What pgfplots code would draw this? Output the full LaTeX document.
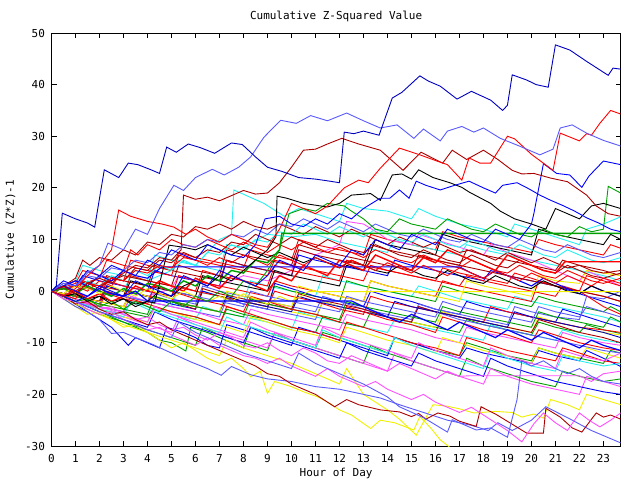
\documentclass[border=0pt]{standalone}
\usepackage{fontspec}
\setmainfont{DejaVu Sans Mono}
\usepackage{pgfplots}
\pgfplotsset{compat=1.18}
\definecolor{cR}{RGB}{255,0,0}
\definecolor{cG}{RGB}{0,160,0}
\definecolor{cB}{RGB}{0,0,255}
\definecolor{cM}{RGB}{255,80,255}
\definecolor{cC}{RGB}{40,240,240}
\definecolor{cY}{RGB}{240,240,0}
\definecolor{cK}{RGB}{0,0,0}
\definecolor{cDR}{RGB}{170,0,0}
\definecolor{cDB}{RGB}{0,0,190}
\definecolor{cLB}{RGB}{90,90,255}
\begin{document}
\begin{tikzpicture}
\path[use as bounding box] (0,0) rectangle (640pt,480pt);
\begin{axis}[
  at={(51.5pt,34pt)}, anchor=south west,
  width=569.2pt, height=413pt, scale only axis,
  xmin=0, xmax=23.72, ymin=-30, ymax=50,
  xtick={0,1,...,23}, ytick={-30,-20,...,50},
  tick align=inside, major tick length=5pt,
  axis line style={line width=0.8pt},
  every tick/.style={line width=0.8pt, black},
  /pgf/number format/assume math mode=true,
  tick label style={font=\fontsize{11}{12}\selectfont},
  xticklabel style={yshift=-5pt},
  yticklabel style={xshift=-3pt},
  title={Cumulative Z-Squared Value},
  title style={font=\fontsize{11}{12}\selectfont, at={(axis description cs:0.5,1)}, anchor=center, yshift=11pt},
  xlabel={Hour of Day},
  xlabel style={font=\fontsize{11}{12}\selectfont, at={(axis description cs:0.5,0)}, anchor=center, yshift=-27pt},
  ylabel={Cumulative (Z*Z)-1},
  ylabel style={font=\fontsize{11}{12}\selectfont, at={(axis description cs:-0.072,0.5)}, anchor=center},
  every axis plot/.append style={line width=0.9pt, mark=none},
]
% middle bundle
\addplot[cR] coordinates {(0,0)(1,1.5)(1.3,4)(2,3)(3,2)(3.3,6)(4,5)(5,4)(5.3,7.5)(6,6.5)(7,5.5)(8,4.5)(8.3,8)(9,7)(10,6)(10.3,10)(11,9)(12,8)(13,7)(13.3,11)(14,10)(15,9)(16,8)(16.3,11.5)(17,10.5)(18,9.5)(19,8.5)(20,7.5)(20.3,10)(21,9)(22,8)(23,7)(23.3,9)(23.72,8.3)};
\addplot[cC] coordinates {(0,0)(1,-1)(1.3,2)(2,1)(3,0)(3.3,3)(4,2)(5,4)(5.3,6)(6,5)(7,10)(7.5,11)(7.6,19.6)(8.85,17)(9.7,14.5)(10.3,16)(11,15)(12,13.5)(12.3,17)(13,16)(14,15.5)(15,14)(15.3,16)(16,14.5)(17,13)(18,12)(19,10.5)(19.3,13)(20,12)(21,10.5)(22,9)(22.3,12)(23,13)(23.72,14.4)};
\addplot[cC] coordinates {(0,0)(1,2)(1.3,5)(2,4)(3,3)(4,2)(4.3,7)(5,6)(6,5)(7,4)(7.3,9)(8,8.5)(9,11)(10,10.5)(11,11)(12,9.5)(13,8.5)(14,7.5)(14.3,10)(15,9)(16,8)(17,7)(17.3,9)(18,8)(19,7)(20,6)(21,5)(22,4)(23,3)(23.72,2)};
\addplot[cC] coordinates {(0,0)(1,-1.5)(2,-2.5)(2.3,0)(3,-1)(4,-2)(5,-3)(5.3,1)(6,0)(7,-1)(8,-2)(8.3,2)(9,1)(10,0)(11,-1)(11.3,3)(12,2)(13,1)(14,0)(15,-1)(15.3,1)(16,0)(17,-1.5)(18,-2.5)(19,-3.5)(19.3,-1)(20,-2)(21,-3)(22,-4)(23,-5)(23.72,-6)};
\addplot[cC] coordinates {(0,0)(1,-2)(2,-3.5)(3,-4.5)(3.3,-2)(4,-3)(5,-4.5)(6,-5.5)(6.3,-3)(7,-4)(8,-5)(9,-6)(10,-7.5)(10.3,-4)(11,-5)(12,-6)(13,-7)(14,-8)(14.3,-5.5)(15,-6.5)(16,-7.5)(17,-8.5)(18,-9.5)(18.3,-6.5)(19,-7.5)(20,-8.5)(21,-9.5)(21.3,-7.5)(22,-8.5)(23,-9.5)(23.72,-10)};
\addplot[cG] coordinates {(0,0)(1,-1)(2,-2)(2.3,1)(3,0)(4,-1)(5,-2)(6,-3)(6.3,0)(7,-1)(8,-2)(9,-3)(9.3,1)(10,0)(11,-1)(12,-2)(12.3,2)(13,1)(14,0)(15,-1)(16,-2)(16.3,1)(17,0)(18,-1)(19,-2)(20,-3)(20.3,-1)(21,-2)(22,-3)(23,-4)(23.3,-3)(23.72,-4)};
\addplot[cG] coordinates {(0,0)(1,-1.5)(2,-3)(3,-4)(4,-5)(4.3,-3)(5,-4)(6,-5)(7,-6.5)(7.3,-3.5)(8,-4.5)(9,-5.5)(10,-7)(11,-8)(11.3,-5)(12,-6)(13,-7)(13.3,-4)(14,-5)(15,-6)(16,-7)(17,-8)(17.3,-5.5)(18,-6.5)(19,-7.5)(20,-8.5)(20.3,-6)(21,-7)(22,-8)(22.3,-6.5)(23,-7.5)(23.72,-8.2)};
\addplot[cG] coordinates {(0,0)(1,-2)(2,-4)(3,-6)(4,-8)(4.5,-9.5)(5,-10)(5.6,-11.6)(5.8,-7)(6.5,-8)(7,-9)(7.5,-10)(8,-11)(8.3,-7)(9,-8)(10,-9.5)(11,-11)(11.3,-8)(12,-9)(13,-10.5)(14,-12)(14.3,-9)(15,-10)(16,-11.5)(17,-12.5)(17.3,-10)(18,-11)(19,-12.5)(20,-13.5)(20.3,-11)(21,-12)(22,-13)(23,-14)(23.3,-11.5)(23.72,-12)};
\addplot[cG] coordinates {(0,0)(1,-2.5)(2,-4.5)(3,-6)(4,-7.5)(5,-9)(6,-10.5)(6.3,-7)(7,-8.5)(8,-10)(9,-11.5)(9.3,-8)(10,-9.5)(11,-11)(12,-12.5)(13,-14)(13.3,-10.5)(14,-12)(15,-13.5)(16,-15)(17,-16.5)(17.3,-13)(18,-14.5)(19,-16)(20,-17.5)(21,-18.5)(21.3,-15.5)(22,-16.5)(23,-17.5)(23.72,-17)};
\addplot[cB] coordinates {(0,0)(1,1)(1.3,3)(2,2)(3,1)(4,0)(4.3,4)(5,3)(6,2)(7,1)(7.3,6)(8,5)(9,4)(10,3)(10.3,7)(11,6)(12,5)(13,4)(14,3)(14.3,6)(15,5)(16,4)(17,3)(18,2)(18.3,4)(19,3)(20,2)(21,1)(22,-0.5)(23,-2)(23.72,-3)};
\addplot[cB] coordinates {(0,0)(1,-1)(2,-2.5)(2.3,1)(3,0)(4,-1)(5,-2.5)(6,-3.5)(6.3,0)(7,-1)(8,-2.5)(9,-3.5)(9.3,1.5)(10,0.5)(11,-1)(12,-2)(13,-3)(13.3,0)(14,-1)(15,-2)(16,-3.5)(17,-4.5)(17.3,-2)(18,-3)(19,-4)(20,-5)(21,-6)(21.3,-3.5)(22,-4.5)(23,-6)(23.72,-7)};
\addplot[cB] coordinates {(0,0)(0.5,-1)(1,-2.5)(1.5,-4)(2,-5.5)(2.5,-7)(3.2,-10.5)(3.5,-9)(4,-10)(4.5,-11)(4.8,-7)(5.5,-8)(6,-9)(6.5,-10.5)(7,-11)(7.3,-6.5)(8,-7.5)(9,-9)(10,-10.5)(10.3,-7)(11,-8)(12,-9.5)(13,-11)(14,-12.5)(14.3,-9)(15,-10)(16,-11.5)(17,-13)(17.3,-11)(18,-12)(19,-13)(20,-14)(20.3,-11.5)(21,-12.5)(22,-13.5)(22.3,-11.5)(23,-13)(23.72,-14.6)};
\addplot[cLB] coordinates {(0,0)(1,-1)(2,-2)(2.3,2)(3,1)(4,0)(5,-1.5)(6,-2.5)(6.3,1)(7,0)(8,-1)(9,-2)(10,-3)(11,-4)(11.3,-1)(12,-2)(13,-3.5)(14,-4.5)(15,-5.5)(15.3,-3)(16,-4)(17,-5.5)(18,-6.5)(19,-7.5)(20,-8.5)(21,-9.5)(22,-10.5)(23,-11.5)(23.72,-12)};
\addplot[cLB] coordinates {(0,0)(1,-1.5)(2,-3)(3,-4)(3.3,-1)(4,-2)(5,-3)(6,-4)(7,-5)(7.3,-1.5)(8,-2.5)(9,-3.5)(10,-4.5)(11,-5.5)(11.3,-2)(12,-3)(13,-4)(14,-5)(15,-6)(15.3,-2.5)(16,-3.5)(17,-4.5)(18,-5.5)(19,-6.5)(19.3,-3)(20,-4)(21,-5)(22,-5.5)(22.3,-1)(23,-1.5)(23.72,0)};
\addplot[cM] coordinates {(0,0)(1,-1)(2,-2)(2.3,1)(3,0)(4,-1)(5,0.5)(5.3,3)(6,2)(7,1)(8,3)(9,2)(10,4)(10.3,8)(11,7)(12,9)(12.3,13.5)(13,13)(13.7,11)(14,10)(15,9)(15.3,11)(16,10)(17,8.5)(18,7)(18.3,9)(19,7.5)(20,6)(21,4)(22,2)(22.3,4)(23,2.5)(23.72,1)};
\addplot[cM] coordinates {(0,0)(1,-1.5)(2,-3)(3,-4)(3.3,-1)(4,-2)(5,-3)(6,-4)(7,-5.5)(8,-6.5)(8.3,-3.5)(9,-4.5)(10,-5.5)(11,-6.5)(12,-7.5)(12.3,-4.5)(13,-5.5)(14,-6.5)(15,-7.5)(16,-9)(17,-10)(17.3,-7)(18,-8)(19,-9)(20,-10)(21,-11)(21.3,-8)(22,-9)(23,-10)(23.72,-10.5)};
\addplot[cM] coordinates {(0,0)(1,-2)(2,-3.5)(3,-5)(4,-6.5)(5,-8)(5.3,-5)(6,-6.5)(7,-8)(8,-9.5)(9,-11)(9.3,-8)(10,-9.5)(11,-11)(12,-12.5)(13,-14)(14,-15.5)(14.3,-12)(15,-13.5)(16,-15)(17,-16.5)(18,-18)(18.3,-15)(19,-16.5)(20,-18)(21,-19)(22,-20)(22.3,-16.5)(23,-17.5)(23.72,-18.5)};
\addplot[cY] coordinates {(0,0)(1,-1.5)(2,-2.5)(3,-3.5)(3.3,0)(4,-1)(5,-2)(6,-3)(7,-4)(7.3,-1)(8,-2)(9,-3)(10,-4)(11,-5)(11.3,-2)(12,-3)(13,-4)(14,-5)(15,-6)(16,-7)(16.3,-4)(17,-5)(18,-6)(19,-7)(20,-8)(20.3,-5)(21,-6)(22,-7)(23,-8)(23.72,-8.5)};
\addplot[cY] coordinates {(0,0)(1,-2)(2,-3.5)(3,-5)(4,-6)(4.3,-3)(5,-4)(6,-5.5)(7,-6.5)(8,-8)(8.3,-5)(9,-6)(10,-7.5)(11,-8.5)(12,-10)(12.3,-7)(13,-8)(14,-9.5)(15,-10.5)(16,-12)(16.3,-9)(17,-10)(18,-11.5)(19,-12.5)(20,-14)(20.3,-11)(21,-12)(22,-13)(22.3,-11)(23,-12)(23.72,-13)};
\addplot[cY] coordinates {(0,0)(1,-2.5)(2,-4.5)(3,-6.5)(4,-8)(5,-9.5)(6,-11)(7,-12.5)(7.3,-9.5)(8,-11)(9,-12.5)(10,-14)(11,-16)(12,-18)(12.3,-15)(13,-20)(14,-23)(14.5,-24.8)(15.2,-27.9)(15.9,-22)(16.5,-22.3)(17,-22.8)(17.6,-23.6)(18.5,-23.3)(19.2,-23.5)(19.6,-24.4)(20.1,-23.8)(20.5,-24.6)(20.8,-21)(21.5,-22)(22,-23)(22.3,-20)(23,-21)(23.72,-22)};
\addplot[cR] coordinates {(0,0)(1,1)(2,0)(3,-1)(3.3,3)(4,2)(5,1)(6,0)(6.3,4)(7,3)(8,2)(9,1)(9.3,5)(10,4)(11,3)(12,2)(12.3,6)(13,5)(14,4)(15,3)(16,2)(16.3,4.5)(17,3.5)(18,2.5)(19,1.5)(19.3,3.5)(20,2.5)(21,1)(22,0)(23,-1)(23.72,-2)};
\addplot[cR] coordinates {(0,0)(1,-1)(1.3,2)(2,1)(3,0)(4,-1)(5,-2)(5.3,1)(6,0)(7,-1)(8,-2)(9,-3)(9.3,0)(10,-1)(11,-2)(12,-3.5)(13,-4.5)(13.3,-1)(14,-2)(15,-3)(16,-4)(17,-5)(18,-6)(18.3,-3)(19,-4)(20,-5)(21,-6)(22,-7)(23,-7.5)(23.72,-8)};
\addplot[cR] coordinates {(0,0)(1,-2)(2,-3)(2.3,0)(3,-1)(4,-2.5)(5,-4)(6,-5)(7,-6.5)(7.3,-3)(8,-4)(9,-5.5)(10,-7)(11,-8)(12,-9.5)(12.3,-6)(13,-7)(14,-8.5)(15,-10)(16,-11)(17,-12.5)(17.3,-9)(18,-10)(19,-11.5)(20,-12.5)(21,-13.5)(21.3,-11)(22,-12)(23,-13.5)(23.72,-14)};
\addplot[cDR] coordinates {(0,0)(1,1)(2,0)(2.3,3)(3,2)(4,1)(4.3,5)(5,4)(6,3)(7,2)(7.3,6)(8,5)(9,4)(10,3)(10.3,8)(11,7)(12,6)(13,5)(13.3,9)(14,8)(15,7)(16,6)(17,5)(17.3,8)(18,7)(19,6)(20,5)(21,4)(21.3,6)(22,5)(23,4)(23.72,3)};
\addplot[cDR] coordinates {(0,0)(1,-1)(2,-2)(3,-3)(3.3,0)(4,-1)(5,-2)(6,-3.5)(6.3,0.5)(7,-0.5)(8,-1.5)(9,-2.5)(10,-3.5)(10.3,-0.5)(11,-1.5)(12,-2.5)(13,-3.5)(14,-5)(15,-6)(15.3,-3)(16,-4)(17,-5)(18,-6)(19,-7)(20,-8)(20.3,-5.5)(21,-6.5)(22,-8)(23,-9)(23.72,-10)};
\addplot[cK] coordinates {(0,0)(1,1)(2,0)(3,-1)(3.3,2)(4,1)(5,0)(6,-1)(6.3,3)(7,2)(8,1)(9,0)(9.3,4)(10,3)(11,2)(12,1)(12.3,5)(13,4)(13.5,10)(14,9)(15,8)(16,7)(16.3,11)(17,10)(18,9)(19,8)(20,7)(20.3,12)(21,11)(22,10)(23,9)(23.3,11)(23.72,10)};
\addplot[cDB] coordinates {(0,0)(1,-1)(2,-2)(2.3,1)(3,0)(4,-1)(5,-2)(6,-3)(7,-4)(7.3,-1)(8,-2)(9,-3)(10,-4)(10.3,-1)(11,-2)(12,-3)(13,-4)(14,-5)(14.3,-2)(15,-3)(16,-4)(17,-5)(18,-6)(19,-7)(19.3,-4)(20,-5)(21,-6)(22,-7)(23,-8)(23.72,-9)};
\addplot[cR] coordinates {(0,0)(1,-1)(2,-2)(2.3,2)(3,1)(4,0)(5,-1)(5.3,3)(6,2)(7,1)(8,0)(9,-1)(9.3,2)(10,1)(11,0)(12,-1)(13,-2)(13.3,2)(14,1)(15,0)(16,-1)(16.3,2)(17,1)(18,0)(19,-1)(20,-2)(20.3,2)(21,1)(22,0)(22.3,3)(23,2)(23.72,1)};
\addplot[cY] coordinates {(0,0)(1,-1)(2,-2)(3,-3)(3.3,0)(4,-1)(5,-2)(6,-3)(7,-4)(7.3,0)(8,-1)(9,-2)(10,-3)(10.3,1)(11,0)(12,-1)(13,-2)(13.3,2)(14,1)(15,0)(16,-1)(17,-2)(17.3,2)(18,1)(19,0)(20,-1)(20.3,3)(21,2)(22,1.5)(22.3,4)(23,3.5)(23.72,3)};
\addplot[cLB] coordinates {(0,0)(1,1)(2,0)(3,-1)(4,-2)(4.3,1)(5,0)(6,-1)(7,-2)(8,-3)(8.3,0)(9,-1)(10,-2)(11,-3)(12,-4)(12.3,-1)(13,-2)(14,-3)(15,-4)(16,-5)(16.3,-2)(17,-3)(18,-4)(19,-5)(20,-6)(20.3,-3)(21,-4)(22,-5)(22.3,-3)(23,-4)(23.72,-5)};
\addplot[cB] coordinates {(0,0)(1,-2)(2,-4)(3,-5.5)(4,-7)(4.3,-4)(5,-5.5)(6,-7)(7,-8.5)(8,-10)(8.3,-7)(9,-8.5)(10,-10)(11,-11.5)(12,-13)(12.3,-10)(13,-11.5)(14,-13)(15,-14.5)(15.3,-12)(16,-13.5)(17,-15)(18,-16.5)(18.3,-13)(19,-14.5)(20,-16)(21,-17.5)(22,-18.5)(23,-19.5)(23.72,-20)};
\addplot[cC] coordinates {(0,0)(1,-2)(2,-3.5)(3,-5)(3.3,-2)(4,-3.5)(5,-5)(6,-6.5)(7,-8)(7.3,-5)(8,-6.5)(9,-8)(10,-9.5)(11,-11)(11.3,-7.5)(12,-9)(13,-10.5)(14,-12)(14.3,-9)(15,-10.5)(16,-12)(17,-13.5)(18,-15)(18.3,-11.5)(19,-13)(20,-14.5)(21,-15.5)(21.3,-12.5)(22,-13.5)(23,-14.5)(23.72,-14)};
\addplot[cG] coordinates {(0,0)(1,-1)(2,-2.5)(3,-3.5)(4,-4.5)(4.3,-1)(5,-2)(6,-3)(7,-4)(8,-5)(8.3,-1.5)(9,-2.5)(10,-3.5)(11,-4.5)(12,-5.5)(12.3,-2)(13,-3)(14,-4)(15,-5)(16,-6)(16.3,-3)(17,-4)(18,-5)(19,-6)(20,-7)(20.3,-4)(21,-5)(22,-6)(23,-7)(23.3,-5)(23.72,-6)};
\addplot[cM] coordinates {(0,0)(1,-1.5)(2,-3)(3,-4.5)(4,-6)(4.3,-3)(5,-4.5)(6,-6)(7,-7.5)(8,-9)(8.3,-6)(9,-7.5)(10,-9)(11,-10.5)(11.3,-7)(12,-8.5)(13,-10)(14,-11.5)(15,-13)(15.3,-10)(16,-11.5)(17,-13)(18,-14.5)(18.3,-11)(19,-12.5)(20,-14)(21,-15)(21.3,-11.5)(22,-12.5)(23,-13.5)(23.72,-12)};
\addplot[cR] coordinates {(0,0)(1,1)(2,2.5)(2.3,6)(3,5)(4,4)(5,3)(5.3,7)(6,6)(7,5)(8,4)(9,3)(9.3,6)(10,5)(11,4)(12,3)(13,2)(13.3,5)(14,4)(15,3)(16,2)(17,1)(17.3,3)(18,2)(19,1)(20,0)(21,-1)(21.3,1)(22,0)(23,-3)(23.72,-4.5)};
\addplot[cDR] coordinates {(0,0)(1,2)(2,1)(3,3)(4,2)(5,1)(5.3,5)(6,4)(7,3)(7.3,8)(8,7)(9,6)(10,5)(10.3,9)(11,8)(12,7)(13,6)(14,5)(15,4)(15.3,7)(16,6)(17,5)(18,4)(19,3)(20,2)(21,1)(22,0)(23,-1)(23.72,-2)};
\addplot[cR] coordinates {(0,0)(1,-1.5)(1.3,1)(2,0)(3,-1.5)(4,-2.5)(4.3,1)(5,0)(6,-1.5)(7,-2.5)(8,-4)(8.3,-1)(9,-2)(10,-3.5)(11,-4.5)(12,-6)(12.3,-3)(13,-4)(14,-5.5)(15,-6.5)(16,-8)(16.3,-5)(17,-6)(18,-7.5)(19,-8.5)(20,-10)(20.3,-7.5)(21,-8.5)(22,-10)(23,-11)(23.72,-11.5)};
% additional upper-middle series
\addplot[cDR] coordinates {(0,0)(0.5,1)(1,2.5)(1.3,6)(1.6,5)(2,6.5)(2.5,6)(3,8)(3.5,7)(4,9.5)(4.5,9)(5,11)(5.5,10.5)(6,12.5)(6.5,12)(7,13)(7.5,12)(8,13.5)(8.5,12.5)(9,12)(9.5,13)(10,12)(10.5,11)(11,12.5)(11.5,11.5)(12,10.5)(12.5,12)(13,11)(13.5,10)(14,9)(14.5,10.5)(15,9.5)(15.5,8.5)(16,9.5)(16.5,8.5)(17,7.5)(17.5,8)(18,7)(18.5,6)(19,7.5)(19.5,6.5)(20,5.5)(20.5,6.5)(21,5.5)(21.5,4.5)(22,5)(22.5,4)(23,3.5)(23.72,4)};
\addplot[cR] coordinates {(0,0)(0.5,-0.5)(1,1)(1.5,0)(2,2)(2.5,1)(3,4)(3.3,8)(3.6,7)(4,9)(4.5,8)(5,10)(5.5,9)(6,8.5)(6.5,10)(7,9)(7.5,8)(8,9.5)(8.5,8.5)(9,7.5)(9.5,9)(10,8)(10.5,9.5)(11,8.5)(11.5,7.5)(12,8.5)(12.5,7.5)(13,6.5)(13.5,8)(14,7)(14.5,6)(15,5.5)(15.5,7)(16,6)(16.5,5)(17,4.5)(17.5,6)(18,5)(18.5,4)(19,3.5)(19.5,5)(20,4)(20.5,3)(21,2.5)(21.5,4)(22,3)(22.5,2)(23,1.5)(23.72,2.5)};
\addplot[cC] coordinates {(0,0)(0.5,1)(1,0)(1.5,2)(2,1)(2.5,3)(3,2)(3.5,4)(4,3)(4.5,5)(5,4)(5.5,6)(6,5)(6.5,7.5)(7,7)(7.5,9)(8,8)(8.5,10)(9,9.5)(9.5,11.5)(10,11)(10.5,13)(11,12)(11.5,11)(12,12.5)(12.5,11.5)(13,10.5)(13.5,12)(14,11)(14.5,10)(15,9.5)(15.5,11)(16,10)(16.5,9)(17,8.5)(17.5,10)(18,9)(18.5,8)(19,7.5)(19.5,9)(20,8)(20.5,7)(21,6.5)(21.5,8)(22,7)(22.5,6)(23,5.5)(23.72,6.5)};
\addplot[cB, line width=1.1pt] coordinates {(0,0)(0.5,1)(1,2)(1.5,1)(2,3)(2.5,2)(3,4)(3.5,3)(4,2.5)(4.6,4.7)(17,4.7)(17.5,3.5)(18,2.5)(18.5,4)(19,3)(19.5,2)(20,1)(20.5,2.5)(21,1.5)(21.5,0.5)(22,-0.5)(22.5,1)(23,0)(23.72,-1)};
\addplot[cK] coordinates {(0,0)(0.5,-1)(1,-0.5)(1.5,-1.5)(2,-1)(2.5,-2)(3,-1.5)(3.5,-2.5)(4,-2)(4.3,-2.3)(4.9,8.9)(5.5,8.5)(6,8)(6.5,9)(7,8)(7.5,7)(8,8.5)(8.5,7.5)(9,6.5)(9.5,7.5)(10,6.5)(10.5,5.5)(11,6.5)(11.5,5.5)(12,4.5)(12.5,6)(13,5)(13.5,4)(14,3.5)(14.5,5)(15,4)(15.5,3)(16,2.5)(16.5,4)(17,3)(17.5,2)(18,1.5)(18.5,3)(19,2)(19.5,1)(20,0.5)(20.5,2)(21,1)(21.5,0)(22,-0.5)(22.5,1)(23,0)(23.72,-1)};
\addplot[cDR] coordinates {(0,0)(0.5,0.5)(1,-0.5)(1.5,1.5)(2,0.5)(2.5,2.5)(3,2)(3.5,4.5)(4,4)(4.5,6)(5,5.5)(5.5,7.5)(6,6.5)(6.5,8)(7,7.5)(7.5,9.5)(8,9)(8.5,11)(9,10)(9.5,9)(10,10.5)(10.5,9.5)(11,8.5)(11.5,10)(12,9)(12.5,8)(13,7.5)(13.5,9)(14,8)(14.5,7)(15,6.5)(15.5,8)(16,7)(16.5,6)(17,5.5)(17.5,7)(18,6)(18.5,5)(19,4.5)(19.5,6)(20,5)(20.5,4)(21,3.5)(21.5,5)(22,4)(22.5,3)(23,2.5)(23.72,3.5)};
\addplot[cLB] coordinates {(0,0)(0.5,1.5)(1,1)(1.5,3)(2,2.5)(2.5,4.5)(3,4)(3.5,6)(4,5.5)(4.5,7.5)(5,7)(5.5,9)(6,8.5)(6.5,10)(7,9.5)(7.5,11)(8,10.5)(8.5,12)(9,11)(9.5,13)(10,12.5)(10.5,14)(11,13)(11.5,12)(12,13.5)(12.5,12.5)(13,11.5)(13.5,13)(14,12)(14.5,11)(15,10.5)(15.5,12)(16,11)(16.5,10)(17,9.5)(17.5,11)(18,10)(18.5,9)(19,8.5)(19.5,10)(20,9)(20.5,8)(21,7.5)(21.5,9)(22,8)(22.5,7)(23,6.5)(23.72,7.5)};
\addplot[cR] coordinates {(0,0)(0.5,0.5)(1,0)(1.5,1.5)(2,1)(2.5,2.5)(3,2)(3.5,4)(4,3.5)(4.5,5)(5,4.5)(5.5,6.5)(6,6)(6.5,5)(7,6.5)(7.5,5.5)(8,7)(8.5,6)(9,5)(9.5,7)(10,6)(10.5,5)(11,6.5)(11.5,5.5)(12,4.5)(12.5,6)(13,5)(13.5,4)(14,5.5)(14.5,4.5)(15,3.5)(15.5,5)(16,4)(16.5,3)(17,4.5)(17.5,3.5)(18,2.5)(18.5,4)(19,3)(19.5,2)(20,3.5)(20.5,2.5)(21,1.5)(21.5,3)(22,2)(22.5,1)(23,2.5)(23.72,1.5)};
% special / traced series
\addplot[cG, line width=1.4pt] coordinates {(0,0)(0.5,0.5)(1,-0.5)(1.5,1)(2,0)(2.5,-1)(3,0.5)(3.5,-0.5)(4,1.5)(4.5,1)(5,0)(5.5,2)(6,1)(6.5,3)(7,2)(7.5,4)(8,3.5)(8.5,6)(9,5.5)(9.5,8)(9.6,11.2)(23.72,11.2)};
\addplot[cR, line width=1.4pt] coordinates {(0,0)(0.5,-1)(1,0)(1.5,-1.5)(2,-0.5)(2.5,-2)(3,-1)(3.5,1)(4,0)(4.5,2)(5,1)(5.5,0)(6,2.5)(6.5,1.5)(7,0.5)(7.5,3)(8,2)(8.5,1)(9,0)(9.5,3)(10,2)(10.5,5)(11,4)(11.5,3)(12,6)(12.5,5)(13,4)(13.5,7)(14,6)(14.5,5)(15,4)(15.5,6.5)(16,5.5)(16.5,8)(17,7)(17.5,6)(18,5)(18.5,4)(19,7)(19.5,6)(20,5)(20.5,4)(21,3.5)(21.4,5.7)(23.72,5.7)};
\addplot[cY] coordinates {(0,0)(0.5,-0.5)(1,1)(1.5,0.5)(2,-0.5)(2.5,1)(3,0)(3.5,-1)(4,0.5)(4.5,-0.5)(5,-1.5)(5.5,0)(6,-1)(6.5,-2)(7,-1)(7.5,-2)(8,-0.5)(8.5,-1.5)(9,-2.5)(9.5,-1)(10,-2)(10.7,-0.1)(23.72,-0.1)};
\addplot[cM] coordinates {(0,0)(0.5,-1)(1,-2)(1.5,-2.5)(2,-3.5)(2.5,-3)(3,-4.5)(3.5,-5.5)(4,-5)(4.5,-6.5)(5,-7.5)(5.5,-7)(6,-8.5)(6.5,-9.5)(7,-8)(7.5,-9)(8,-10.5)(8.5,-11)(9,-10)(9.5,-11.5)(10,-12.5)(10.5,-11)(11,-12)(11.5,-13.5)(12,-14)(12.5,-12.5)(13,-13.5)(13.5,-14.5)(14,-15.5)(14.5,-14)(15,-15)(15.5,-16)(16,-17)(16.5,-15.5)(17,-16.5)(17.4,-16.4)(22,-16.4)(22.5,-17.5)(23,-16)(23.72,-15.5)};
\addplot[cB, line width=1.2pt] coordinates {(0,0)(0.5,1)(1,0)(1.5,-1)(2,0.5)(2.5,-0.5)(3,-1)(3.5,0)(4.0,-1.9)(12.5,-1.9)(13,-3)(13.5,-4)(14,-5)(14.5,-6)(15,-4.5)(15.5,-5.5)(16,-6.5)(16.5,-7.5)(17,-6)(17.5,-7)(18,-8)(18.5,-9)(19,-7.5)(19.5,-8.5)(20,-9.5)(20.5,-8)(21,-9)(21.5,-10)(22,-11)(22.5,-9.5)(23,-10.5)(23.72,-11.5)};
\addplot[cY] coordinates {(0,0)(0.5,-1.5)(1,-3)(1.5,-4.5)(2,-4)(2.5,-5.5)(3,-7)(3.5,-6.5)(4,-8)(4.5,-9.5)(5,-11)(5.5,-10)(6,-11.5)(6.5,-13)(7,-14)(7.5,-13)(8,-15)(8.3,-16.6)(8.7,-15.5)(9.0,-19.8)(9.3,-17.5)(10,-18.5)(10.5,-19.5)(11.1,-20.5)(11.5,-21.5)(12,-23)(12.5,-24)(13.3,-26.6)(13.7,-25)(14.3,-25.5)(15.1,-26.9)(15.35,-24.3)(15.8,-26.5)(16.2,-28.8)(16.8,-31)};
\addplot[cLB] coordinates {(0,0)(0.5,-1.5)(1,-3)(1.5,-4)(2,-5.5)(2.5,-8.2)(3,-8)(3.5,-9)(4.2,-10.3)(5,-12)(5.8,-13.7)(6.5,-15)(7.07,-16.3)(7.5,-14.6)(8.3,-16.2)(9,-17)(10,-17.5)(11,-18.5)(12,-19)(13,-20)(13.7,-20.7)(14.5,-22)(15.5,-23.5)(16.5,-25)(17.5,-26)(18.2,-27)(18.6,-25.5)(19.2,-27)(20,-25)(20.6,-22.4)(21.5,-24.5)(22.5,-27)(23.72,-29.4)};
\addplot[cDR] coordinates {(0,0)(0.5,-1)(1,-2.5)(1.5,-2)(2,-3.5)(2.5,-4.5)(3,-4)(3.5,-5.5)(4,-6.5)(4.5,-6)(5,-7.5)(5.5,-8.5)(6,-9.5)(6.5,-10.5)(7,-11.5)(7.5,-12.5)(8,-13.5)(8.5,-14.5)(9,-16)(9.5,-16.5)(10,-18)(10.5,-19)(11,-20)(11.8,-22.4)(12.3,-21)(12.8,-22)(13.7,-23)(14.5,-23.4)(15.0,-24.3)(15.3,-23.7)(15.6,-24.8)(16.1,-23.6)(16.6,-24.2)(17.0,-25.2)(17.7,-26.2)(17.9,-22.4)(18.5,-23.8)(19.1,-25.5)(19.8,-27.5)(20.5,-27.5)(20.6,-22.7)(21.2,-24.4)(21.7,-26.5)(22.1,-27.3)(22.7,-23.6)(23.0,-24.4)(23.3,-24)(23.72,-24.8)};
\addplot[cM] coordinates {(0,0)(0.5,-1.5)(1,-2)(1.5,-3.5)(2,-4.5)(2.5,-4)(3,-5.5)(3.5,-6.5)(4,-7.5)(4.5,-7)(5,-8.5)(5.5,-9.5)(6,-10.5)(6.5,-9)(7,-10.5)(7.5,-11.5)(8,-12.5)(8.5,-13)(9,-14)(9.5,-13)(10,-14.5)(10.5,-15.5)(11,-16.5)(11.5,-15)(12,-16.5)(12.5,-17.5)(13,-18.5)(13.5,-17.5)(14,-19)(14.5,-20)(15,-21)(15.5,-20)(16,-21.5)(16.5,-22.5)(17,-23.5)(17.5,-22.5)(18,-24)(18.5,-25.5)(19,-27)(19.6,-29.2)(20.1,-25.7)(20.5,-23.6)(21,-25.5)(21.5,-27)(22,-23.6)(22.4,-25)(22.85,-26.3)(23.3,-25)(23.72,-23.6)};
\addplot[cLB] coordinates {(0,0)(1,-2)(2,-4)(3,-5.5)(4,-7.5)(5,-9)(5.3,-6)(6,-8)(7,-10)(8,-12)(9,-13.5)(10,-15)(10.3,-12)(11,-14)(12,-16)(13,-18)(14,-20.5)(14.5,-22.4)(15.5,-24.5)(16.5,-27.3)(16.7,-24.9)(17.7,-26.9)(18.3,-26.5)(19.0,-28.3)(19.4,-21)(19.6,-13.5)(20,-14.5)(20.5,-13.5)(21,-15)(21.5,-16)(22,-15)(22.5,-16.5)(23,-17.5)(23.72,-18)};
% upper series
\addplot[cG] coordinates {(0,0)(0.5,-1)(1,-2)(1.5,-1.5)(2,-3)(2.5,-2)(3,-3.5)(3.5,-2)(4,-3)(4.5,-4)(5,-2)(5.5,-3)(6,-1)(6.5,-2)(7,0)(7.5,-1)(8,2)(8.5,1)(9,4)(9.5,8)(9.9,15)(10.5,16)(11,15.5)(11.5,17)(12.2,16.5)(12.5,15.5)(13,14)(13.5,12)(14,11.5)(14.5,14)(15,13)(15.5,12.5)(16,12)(16.5,14)(17,13)(17.5,12)(18,11.5)(18.5,13)(19,12)(19.5,11)(20,10.5)(20.5,12)(21,11)(21.5,10.5)(22,12.5)(22.5,11.5)(23,12)(23.2,20.3)(23.72,19)};
\addplot[cK] coordinates {(0,0)(0.5,-1)(1,-0.5)(1.5,-2)(2,-1)(2.5,-2.5)(3,-1.5)(3.5,-3)(4,-2)(4.5,0)(5,-1)(5.5,1)(6,2)(6.5,1)(7,3)(7.5,2)(8,4)(8.5,6)(9,8)(9.35,10.5)(9.4,18.4)(9.8,18)(10.5,17)(11.5,16.3)(12.0,17)(12.5,18.6)(13.3,18.9)(13.7,17.6)(14.2,22.5)(14.6,22.7)(15.0,21.7)(15.3,23.5)(15.9,22)(16.6,21)(17.1,20.1)(17.4,19.2)(18.3,17)(18.7,15.5)(19.3,14)(20,13)(20.6,12)(21.0,16)(21.5,15)(22,14)(22.5,16.5)(23,17)(23.72,16)};
\addplot[cB] coordinates {(0,0)(0.5,2)(1,1)(1.5,4)(2,3)(2.5,5)(3,4)(3.5,3)(4,6)(4.5,5)(5,8)(5.5,7)(6,6)(6.5,9)(7,8)(7.5,7)(8,6.5)(8.5,9)(8.9,14)(9.5,14.5)(10,13)(10.5,12.5)(11,14)(11.5,13)(12,15)(12.5,14)(13,16)(13.7,18)(14.1,18)(14.5,19.6)(14.9,18)(15.2,21.3)(15.6,20.5)(16.2,19.6)(16.8,20.5)(17.4,21.3)(18.0,20)(18.5,19)(18.8,20.5)(19.4,21)(19.9,19.8)(20.35,18.6)(20.8,17.6)(21.3,16.6)(21.8,15.5)(22.3,14.2)(22.8,13.2)(23.3,12)(23.72,11.5)};
\addplot[cB] coordinates {(0,0)(0.5,-1)(1,-2)(1.5,-1)(2,1)(2.5,0)(3,-1)(3.5,2)(4,1)(4.5,0)(5,-1)(5.5,3)(6,2)(6.5,1)(7,4)(7.5,3)(8,2)(8.5,1)(9,3)(9.5,6)(10,5)(10.5,4)(11,7)(11.5,6)(12,5)(12.5,8)(13,7)(13.5,10)(14,9)(14.5,8)(15,11)(15.5,10)(16,9)(16.5,12)(17,11)(17.5,10)(18,9.5)(18.5,12)(19,11)(19.5,10)(20,13)(20.1,15)(20.5,24.7)(21.05,22.8)(21.6,22.5)(22.1,20.1)(22.4,22.3)(23.0,25.2)(23.72,24.5)};
\addplot[cDR] coordinates {(0,0)(0.5,1)(1,-0.5)(1.5,1.5)(2,2.5)(2.5,1.5)(3,3.5)(3.5,5)(4,4.5)(4.5,6.5)(5.0,6)(5.4,8)(5.5,18.6)(6.0,17.8)(6.5,18.2)(7.0,17.5)(7.5,18.5)(8.0,19.5)(8.5,18.8)(9.0,19)(9.5,21)(10.0,24)(10.5,27.3)(11,27.5)(11.5,28.5)(12.1,29.6)(12.8,28.5)(13.7,27.3)(14.65,23.4)(15.4,26.9)(16.3,24.8)(16.7,27.3)(17.3,25.5)(18.0,27.3)(18.6,25.5)(19.2,23.4)(19.6,22.7)(20.1,22.8)(20.8,21.9)(21.5,21.2)(22.3,18.6)(22.7,16.5)(23.2,15)(23.72,14.5)};
\addplot[cR] coordinates {(0,0)(0.5,-1)(1,0.5)(1.5,3)(2,5)(2.5,8)(2.8,15.7)(3.3,14.5)(4,13.5)(4.6,13)(5.1,12.4)(5.6,11)(6,12)(6.5,10.5)(7,9.5)(7.5,11)(8,10)(8.5,9)(9,8.5)(9.5,12)(10,17)(10.5,16)(11,15)(11.5,16.5)(12.2,20)(12.8,21.5)(13.2,21)(13.7,23.8)(14.5,27.7)(15.35,26.4)(16,25.3)(16.5,24.5)(17.1,21.5)(17.4,25.8)(17.85,24.8)(18.3,24.8)(19.0,30)(19.3,29.5)(20.0,26.5)(20.9,23.4)(21.2,30.6)(22.0,29.1)(22.3,30.5)(22.5,30.2)(22.85,32.5)(23.3,35)(23.72,34.3)};
\addplot[cLB] coordinates {(0,0)(0.5,1.5)(1,1)(1.5,3.5)(2,5)(2.35,9.3)(3,8)(3.5,12)(4,11)(4.5,16)(5.1,20.5)(5.5,19.5)(6,22)(6.7,23.6)(7.2,22.5)(7.8,24)(8.3,26)(8.85,29.8)(9.55,33.1)(10.2,32.5)(10.8,34)(11.5,33)(12.3,34.5)(13,33)(13.7,31.6)(14.4,32.2)(15.1,29.6)(15.5,31.4)(16.2,29.1)(16.5,31)(17.1,31.9)(17.6,30.8)(18.0,31.6)(18.7,29.6)(19.5,28.1)(20.35,26.4)(20.9,27.5)(21.2,31.6)(21.7,32.2)(22.3,30.6)(23.0,29.2)(23.72,28.1)};
\addplot[cDB] coordinates {(0,0)(0.2,1)(0.45,15.1)(1.0,14)(1.5,13.2)(1.8,12.4)(2.2,23.5)(2.8,22)(3.2,24.8)(3.6,24.5)(4.15,23.5)(4.5,22.8)(4.8,27.9)(5.2,26.9)(5.7,28.5)(6.2,27.8)(6.8,26.7)(7.5,28.7)(7.95,28.4)(8.5,26)(9.0,24)(9.6,23.2)(10.3,22)(11,21.7)(11.6,21.3)(12.0,21)(12.2,30.8)(12.6,30.5)(13.0,31)(13.65,30.2)(14.2,37.4)(14.6,38.5)(15.35,41.7)(15.7,40.7)(16.2,39.7)(16.9,37.2)(17.5,38.7)(18.3,37)(18.8,35)(19,36)(19.2,41.9)(19.8,40.9)(20.2,40)(20.7,39.5)(21,47.7)(21.6,46.7)(22.3,44.5)(23.2,41.8)(23.4,43.2)(23.72,43)};
\end{axis}
\end{tikzpicture}
\end{document}
